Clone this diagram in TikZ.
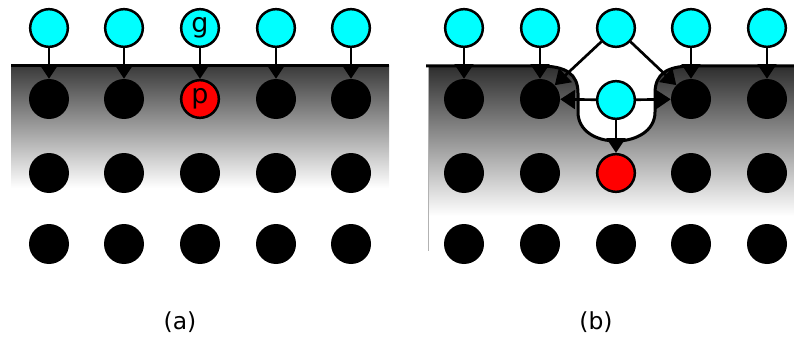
\documentclass[tikz,border=0pt]{standalone}
\usepackage{fontspec}
\setmainfont{DejaVu Sans}
\usetikzlibrary{arrows.meta}
\definecolor{cyanc}{HTML}{00FFFF}
\definecolor{redc}{HTML}{FF0000}
\tikzset{
  cyannode/.style={circle, draw=black, fill=cyanc, line width=0.75mm, minimum size=11.3mm, inner sep=0pt, font=\fontsize{23pt}{24pt}\selectfont},
  rednode/.style={circle, draw=black, fill=redc, line width=0.75mm, minimum size=11.3mm, inner sep=0pt, font=\fontsize{23pt}{24pt}\selectfont},
  blacknode/.style={circle, fill=black, minimum size=12mm, inner sep=0pt},
  arr/.style={line width=0.8mm, -{Triangle[length=4.4mm, width=5.6mm]}},
  surface/.style={line width=0.9mm},
  caption/.style={font=\fontsize{20pt}{22pt}\selectfont}
}
\begin{document}
\begin{tikzpicture}[x=0.3mm, y=-0.3mm]
\useasboundingbox (0,0) rectangle (794,339);
% ---------- panel (a) ----------
\shade[top color=black!77, bottom color=white] (11,66) rectangle (389,188);
\draw[surface] (11,66) -- (389,66);
\foreach \i/\x in {1/49,2/124,3/200,4/276,5/351}{
  \ifnum\i=3
    \node[cyannode] (ag\i) at (\x,28) {g};
    \node[rednode] (aa\i) at (\x,99) {p};
  \else
    \node[cyannode] (ag\i) at (\x,28) {};
    \node[blacknode] (aa\i) at (\x,99) {};
  \fi
  \node[blacknode] (ab\i) at (\x,173) {};
  \node[blacknode] (ac\i) at (\x,244) {};
  \draw[arr] (ag\i) -- (aa\i);
}
\node[caption] (capa) at (180,322) {(a)};
% ---------- panel (b) ----------
\shade[top color=black!82, bottom color=white] (428,66) rectangle (794,216);
\draw[black!30, line width=0.3mm] (428,66) -- (428,251);
% white pocket (filled beyond the surface line to avoid seams)
\fill[white] (530,58) -- (540,66)
  .. controls (566,66) and (578,74) .. (578,93) -- (578,112)
  .. controls (578,131) and (596,141) .. (616,141)
  .. controls (636,141) and (655,131) .. (655,112) -- (655,93)
  .. controls (655,74) and (667,66) .. (692,66) -- (700,58) -- cycle;
\draw[surface] (426,66) -- (540,66)
  .. controls (566,66) and (578,74) .. (578,93) -- (578,112)
  .. controls (578,131) and (596,141) .. (616,141)
  .. controls (636,141) and (655,131) .. (655,112) -- (655,93)
  .. controls (655,74) and (667,66) .. (692,66) -- (794,66);
\foreach \i/\x in {1/464,2/540,3/616,4/691,5/767}{
  \node[cyannode] (bg\i) at (\x,28) {};
  \ifnum\i=3
    \node[rednode] (bb\i) at (\x,173) {};
  \else
    \node[blacknode] (ba\i) at (\x,99) {};
    \node[blacknode] (bb\i) at (\x,173) {};
  \fi
  \node[blacknode] (bc\i) at (\x,244) {};
}
\node[cyannode] (bm) at (616,100) {};
\foreach \i in {1,2,4,5}{ \draw[arr] (bg\i) -- (ba\i); }
\draw[arr] (bg3) -- (ba2);
\draw[arr] (bg3) -- (ba4);
\draw[arr] (bm) -- (ba2);
\draw[arr] (bm) -- (ba4);
\draw[arr] (bm) -- (bb3);
\node[caption] (capb) at (596,322) {(b)};
\end{tikzpicture}
\end{document}
